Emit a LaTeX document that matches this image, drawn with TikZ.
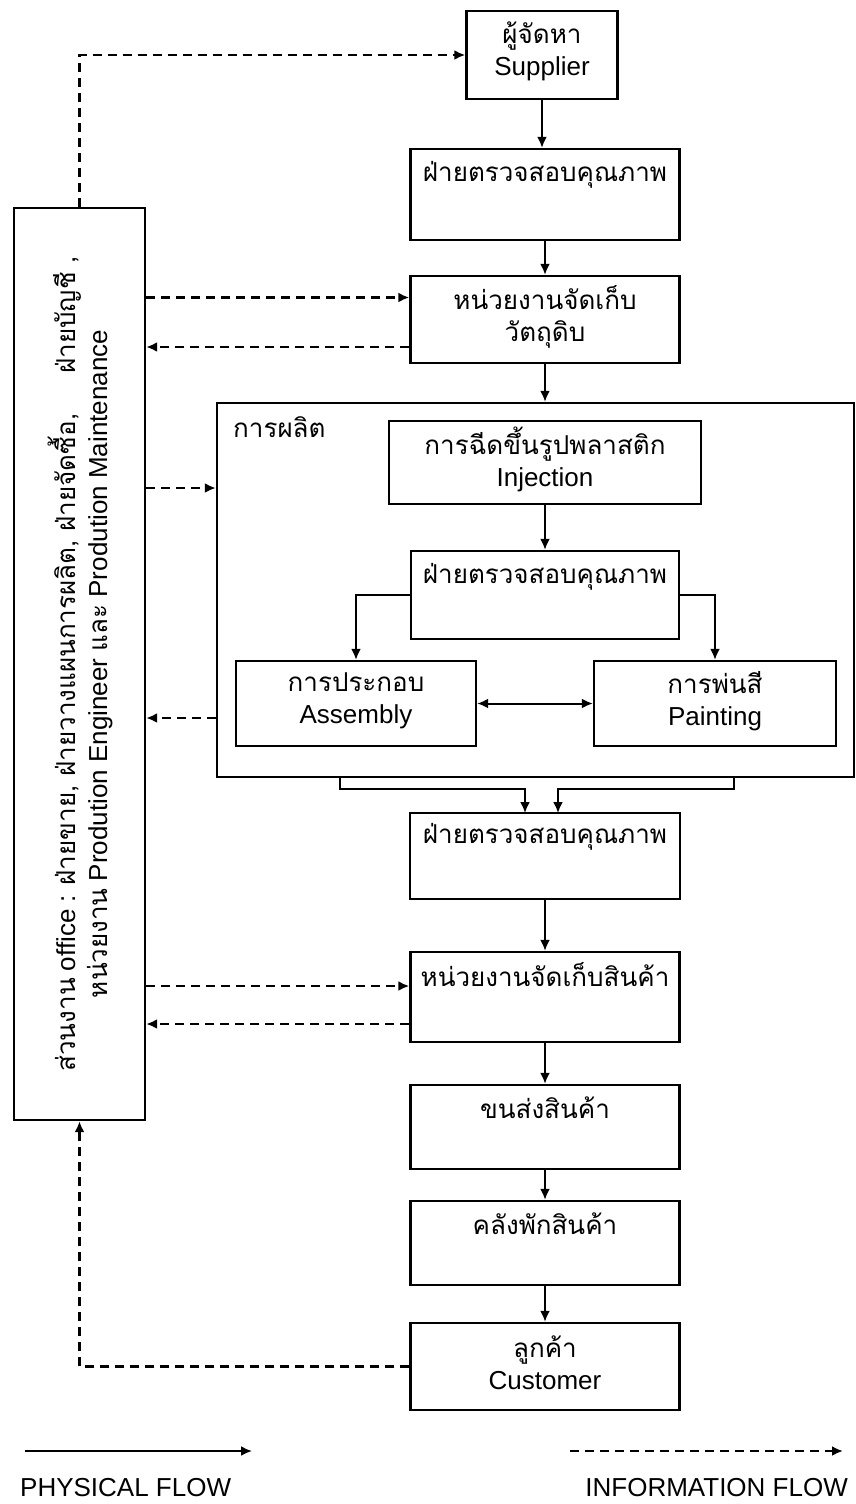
\documentclass[tikz,border=0pt]{standalone}
\usepackage{fontspec}
\setmainfont{Liberation Sans}
\newfontfamily\thai[Script=Thai]{Loma}
\usetikzlibrary{arrows.meta}
\begin{document}
\begin{tikzpicture}[x=1pt,y=-1pt,
  box/.style={draw,line width=2.4pt,inner sep=0pt},
  txt/.style={font=\fontsize{26}{32}\selectfont,inner sep=0pt,align=center},
  phys/.style={line width=2pt,-{Latex[length=11pt,width=10pt]}},
  info/.style={line width=2.6pt,dash pattern=on 9pt off 6pt,-{Latex[length=11pt,width=10pt]}},
]
\useasboundingbox[fill=white] (0,0) rectangle (856,1504);

% boxes
\node[box,minimum width=151pt,minimum height=88pt] (sup) at (542,55) {};
\node[box,minimum width=269pt,minimum height=91pt] (qc1) at (545,194.5) {};
\node[box,minimum width=269pt,minimum height=87pt] (st1) at (545,319.5) {};
\node[box,minimum width=637pt,minimum height=374pt] (prod) at (535.5,590) {};
\node[box,minimum width=312pt,minimum height=83pt] (inj) at (545,462.5) {};
\node[box,minimum width=268pt,minimum height=88pt] (qc2) at (545,595) {};
\node[box,minimum width=240pt,minimum height=85pt] (asm) at (356,703.5) {};
\node[box,minimum width=242pt,minimum height=85pt] (pnt) at (715,703.5) {};
\node[box,minimum width=270pt,minimum height=86pt] (qc3) at (545,856) {};
\node[box,minimum width=269pt,minimum height=90pt] (st2) at (545,997) {};
\node[box,minimum width=269pt,minimum height=84pt] (tr) at (545,1127) {};
\node[box,minimum width=269pt,minimum height=84pt] (wh) at (545,1243) {};
\node[box,minimum width=269pt,minimum height=87pt] (cus) at (545,1366.5) {};
\node[box,minimum width=131pt,minimum height=912pt] (off) at (79.5,664) {};

% texts
\node[txt] (supT) at (542,51) {{\thai ผู้จัดหา}\\Supplier};
\node[txt] (qc1T) at (545,175) {\thai ฝ่ายตรวจสอบคุณภาพ};
\node[txt] (st1T) at (545,317) {\thai หน่วยงานจัดเก็บ\\\thai วัตถุดิบ};
\node[txt,anchor=west] (prodT) at (233,427) {\thai การผลิต};
\node[txt] (injT) at (545,459) {{\thai การฉีดขึ้นรูปพลาสติก}\\Injection};
\node[txt] (qc2T) at (545,577) {\thai ฝ่ายตรวจสอบคุณภาพ};
\node[txt] (asmT) at (356,701) {{\thai การประกอบ}\\Assembly};
\node[txt] (pntT) at (715,701) {{\thai การพ่นสี}\\Painting};
\node[txt] (qc3T) at (545,837) {\thai ฝ่ายตรวจสอบคุณภาพ};
\node[txt] (st2T) at (545,975) {\thai หน่วยงานจัดเก็บสินค้า};
\node[txt] (trT) at (545,1108) {\thai ขนส่งสินค้า};
\node[txt] (whT) at (545,1224) {\thai คลังพักสินค้า};
\node[txt] (cusT) at (545,1363) {{\thai ลูกค้า}\\Customer};
\node[txt,rotate=90] (offT) at (80,664) {{\thai ส่วนงาน} office : {\thai ฝ่ายขาย, ฝ่ายวางแผนการผลิต, ฝ่ายจัดซื้อ,\hspace{40pt}ฝ่ายบัญชี ,}\\{\thai หน่วยงาน} Prodution Engineer {\thai และ} Prodution Maintenance};

% physical flow
\draw[phys] (sup.south) -- (sup.south |- qc1.north);
\draw[phys] (qc1.south) -- (st1.north);
\draw[phys] (st1.south) -- (st1.south |- prod.north);
\draw[phys] (inj.south) -- (qc2.north);
\draw[phys] (qc2.west) -| (asm.north);
\draw[phys] (qc2.east) -| (pnt.north);
\draw[line width=2pt,{Latex[length=11pt,width=10pt]}-{Latex[length=11pt,width=10pt]}] (asm.east) -- (pnt.west);
\coordinate (pbl) at (340,777);
\coordinate (pbr) at (734,777);
\coordinate (in1) at (525,813);
\coordinate (in2) at (558,813);
\draw[phys] (pbl) -- ++(0,12) -| (in1);
\draw[phys] (pbr) -- ++(0,12) -| (in2);
\draw[phys] (qc3.south) -- (st2.north);
\draw[phys] (st2.south) -- (tr.north);
\draw[phys] (tr.south) -- (wh.north);
\draw[phys] (wh.south) -- (cus.north);

% information flow
\coordinate (s1in) at ([yshift=22pt]st1.west);
\coordinate (s1out) at ([yshift=-27.5pt]st1.west);
\coordinate (pin) at (prod.west |- 0,488);
\coordinate (pout) at (prod.west |- 0,718);
\coordinate (s2in) at ([yshift=11pt]st2.west);
\coordinate (s2out) at ([yshift=-27pt]st2.west);
\draw[info] (off.north) |- (sup.west);
\draw[info] (off.east |- s1in) -- (s1in);
\draw[info] (s1out) -- (off.east |- s1out);
\draw[info] (off.east |- pin) -- (pin);
\draw[info] (pout) -- (off.east |- pout);
\draw[info] (off.east |- s2in) -- (s2in);
\draw[info] (s2out) -- (off.east |- s2out);
\draw[info] (cus.west) -| (off.south);

% legend
\coordinate (lg1a) at (25,1451);
\coordinate (lg1b) at (252,1451);
\coordinate (lg2a) at (570,1451);
\coordinate (lg2b) at (843,1451);
\draw[phys] (lg1a) -- (lg1b);
\draw[info] (lg2a) -- (lg2b);
\node[txt,anchor=west] (lgT1) at (20,1488) {PHYSICAL FLOW};
\node[txt,anchor=east] (lgT2) at (848,1488) {INFORMATION FLOW};
\end{tikzpicture}
\end{document}
